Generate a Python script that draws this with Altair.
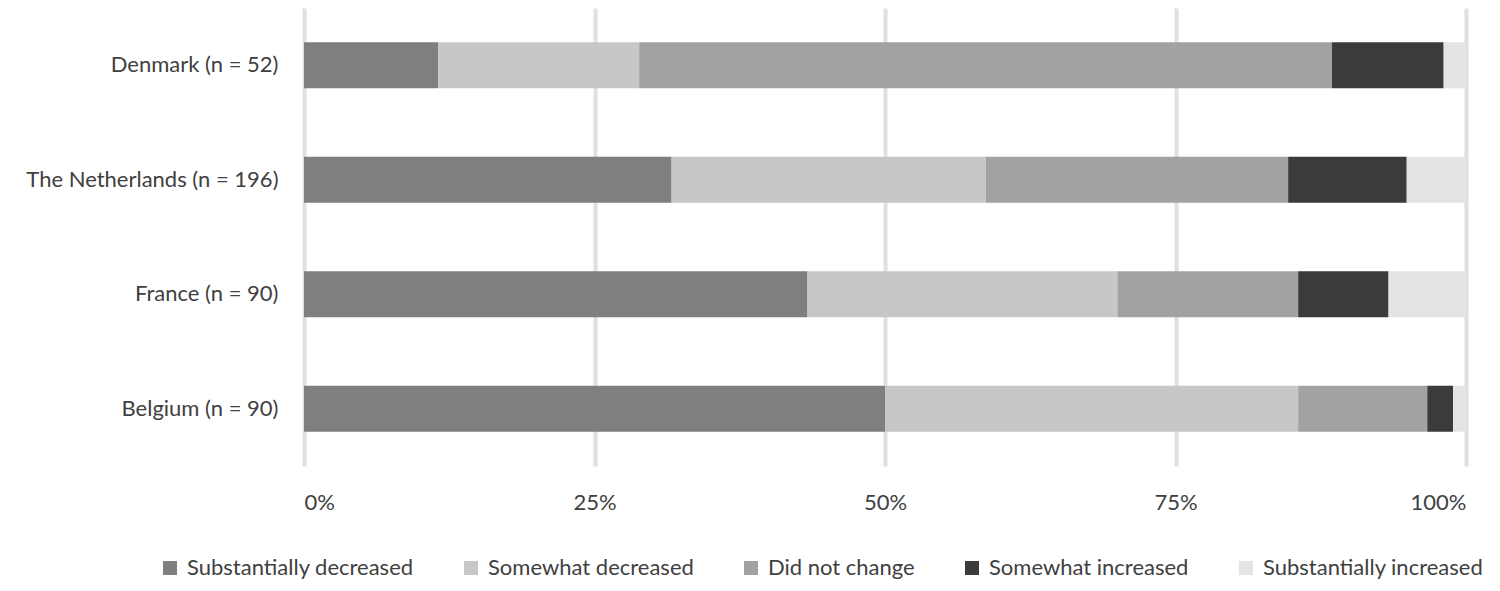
import altair as alt
import pandas as pd

countries = ["Denmark (n = 52)", "The Netherlands (n = 196)", "France (n = 90)", "Belgium (n = 90)"]
categories = ["Substantially decreased", "Somewhat decreased", "Did not change",
              "Somewhat increased", "Substantially increased"]
colors = ["#7f7f7f", "#c6c7c6", "#a2a2a2", "#3b3b39", "#e3e4e3"]

# counts per country, in category order
denmark = [6, 9, 31, 5, 1]
netherlands = [62, 53, 51, 20, 10]
france = [39, 24, 14, 7, 6]
belgium = [45, 32, 10, 2, 1]
series = [denmark, netherlands, france, belgium]

rows = []
for c, vals in zip(countries, series):
    for i, (cat, v) in enumerate(zip(categories, vals)):
        rows.append({"country": c, "category": cat, "count": v, "order": i})
df = pd.DataFrame(rows)

FONT = "Lato"
TXT = "#404040"
FS = 22

chart = alt.Chart(df).mark_bar(size=46).encode(
    x=alt.X("count:Q", stack="normalize",
            scale=alt.Scale(domain=[0, 1], nice=False),
            axis=alt.Axis(values=[0, 0.25, 0.5, 0.75, 1], format="%", title=None,
                          grid=True, gridColor="#e0e0e0", gridWidth=4,
                          domain=False, ticks=False, labelPadding=26,
                          labelFontSize=FS, labelColor=TXT, labelFont=FONT)),
    y=alt.Y("country:N", sort=countries, title=None,
            scale=alt.Scale(paddingInner=0.6, paddingOuter=0.3),
            axis=alt.Axis(domain=False, ticks=False, grid=False, labelPadding=26,
                          labelFontSize=FS, labelColor=TXT, labelFont=FONT,
                          labelLimit=400)),
    color=alt.Color("category:N", sort=categories,
                    scale=alt.Scale(domain=categories, range=colors),
                    legend=alt.Legend(orient="none", direction="horizontal",
                                      legendX=-145, legendY=549, title=None,
                                      symbolType="square", symbolSize=196,
                                      symbolStrokeWidth=0, labelFontSize=FS,
                                      labelFont=FONT, labelColor=TXT,
                                      labelOffset=6, columnPadding=46,
                                      labelLimit=400)),
    order=alt.Order("order:Q"),
).properties(
    width=1162, height=458,
    autosize=alt.AutoSizeParams(type="none"),
    padding={"left": 296, "top": 0, "right": 26, "bottom": 117},
).configure_view(stroke=None)

chart.save("out.html", embed_options={"renderer": "svg", "actions": False})
